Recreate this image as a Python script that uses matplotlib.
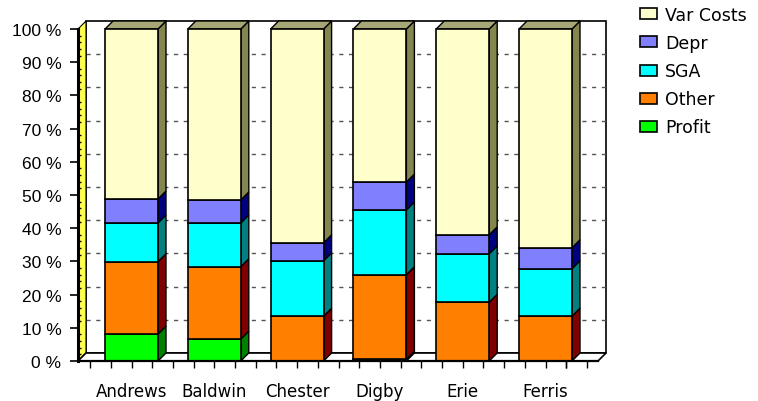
import matplotlib
matplotlib.use("Agg")
import matplotlib.pyplot as plt
from matplotlib.patches import Polygon, Rectangle
from matplotlib.ticker import MultipleLocator, FixedLocator

plt.rcParams['font.family'] = ['Liberation Sans', 'DejaVu Sans']

# Percentage breakdown of each company's sales dollar
companies = ["Andrews", "Baldwin", "Chester", "Digby", "Erie", "Ferris"]
profit = [8.1, 6.6, 0.0, 0.5, 0.0, 0.0]
other = [21.8, 21.8, 13.5, 25.5, 17.7, 13.5]
sga = [11.7, 13.2, 16.7, 19.5, 14.6, 14.3]
depr = [7.2, 6.9, 5.4, 8.4, 5.7, 6.3]
var_costs = [51.2, 51.5, 64.4, 46.1, 62.0, 65.9]

series_names = ["Profit", "Other", "SGA", "Depr", "Var Costs"]
series_values = [profit, other, sga, depr, var_costs]
front_colors = ["#00FF00", "#FF8000", "#00FFFF", "#8080FF", "#FFFFCC"]
side_colors = ["#008000", "#800000", "#008080", "#000080", "#858550"]
top_color = "#A6A676"

W, H = 758, 402
fig = plt.figure(figsize=(W / 100, H / 100), dpi=100)
ax = fig.add_axes([78 / W, 40 / H, 520 / W, 332 / H])

x_unit_px = 82.8
x_left = -53.5 / x_unit_px
x_right = x_left + 520 / x_unit_px
ax.set_xlim(x_left, x_right)
ax.set_ylim(0, 100)

# depth of the 3-D box, expressed in data units
dx = 8 / x_unit_px
dy = 8 / 3.32
bar_w = 0.64

# back wall
ax.add_patch(Rectangle((x_left + dx, dy), x_right - x_left, 100, facecolor="white",
                       edgecolor="black", lw=1.2, clip_on=False, zorder=0.5))
# dashed gridlines on the back wall
for v in range(10, 100, 10):
    ax.plot([x_left + dx, x_right + dx], [v + dy, v + dy], color="#555555", lw=1.0,
            ls=(0, (3, 4)), clip_on=False, zorder=0.6)
# left side wall
ax.add_patch(Polygon([(x_left, 0), (x_left + dx, dy), (x_left + dx, 100 + dy), (x_left, 100)],
                     closed=True, facecolor="#FFFF50", edgecolor="black", lw=0.8,
                     clip_on=False, zorder=0.7))
# floor
ax.add_patch(Polygon([(x_left, 0), (x_right, 0), (x_right + dx, dy), (x_left + dx, dy)],
                     closed=True, facecolor="white", edgecolor="black", lw=1.2,
                     clip_on=False, zorder=0.7))

positions = list(range(len(companies)))
bottoms = [0.0] * len(companies)
handles = []
for vals, fc, sc, name in zip(series_values, front_colors, side_colors, series_names):
    bars = ax.bar(positions, vals, width=bar_w, bottom=bottoms, color=fc, edgecolor="black",
                  lw=1.2, zorder=3, clip_on=False, label=name)
    handles.append(bars)
    for xp, b, v in zip(positions, bottoms, vals):
        if v <= 0:
            continue
        xr = xp + bar_w / 2
        ax.add_patch(Polygon([(xr, b), (xr + dx, b + dy), (xr + dx, b + v + dy), (xr, b + v)],
                             closed=True, facecolor=sc, edgecolor="black", lw=1.0,
                             clip_on=False, zorder=2.5))
    bottoms = [b + v for b, v in zip(bottoms, vals)]

# top faces of the stacks
for xp, t in zip(positions, bottoms):
    xl = xp - bar_w / 2
    ax.add_patch(Polygon([(xl, t), (xl + bar_w, t), (xl + bar_w + dx, t + dy), (xl + dx, t + dy)],
                         closed=True, facecolor=top_color, edgecolor="black", lw=1.0,
                         clip_on=False, zorder=2.5))

# axes styling
for s in ("top", "right"):
    ax.spines[s].set_visible(False)
ax.spines["left"].set_linewidth(2.2)
ax.spines["bottom"].set_linewidth(1.6)
ax.spines["left"].set_zorder(4)
ax.spines["bottom"].set_zorder(4)
ax.patch.set_alpha(0)

ax.yaxis.set_major_locator(MultipleLocator(10))
ax.yaxis.set_minor_locator(MultipleLocator(2))
ax.set_yticklabels([f"{int(v)} %" for v in ax.get_yticks()])
ax.tick_params(axis="y", which="major", direction="out", length=6, width=1.2,
               labelsize=12.5, pad=6)
ax.tick_params(axis="y", which="minor", direction="in", length=2.5, width=1)

ax.set_xticks(positions)
ax.set_xticklabels(companies, family="DejaVu Sans")
ax.xaxis.set_minor_locator(FixedLocator([p + d for p in positions for d in (-0.5, -0.25, 0.25)] + [5.25, 5.5]))
ax.tick_params(axis="x", which="both", direction="out", length=5, width=1)
ax.tick_params(axis="x", which="major", labelsize=12, pad=10)

# legend, top series first
fig.legend(handles[::-1], series_names[::-1], loc="upper left",
           bbox_to_anchor=(640 / W, 1 - 7 / H), frameon=False,
           prop={"family": "DejaVu Sans", "size": 12.5},
           handlelength=1.0, handleheight=0.6, handletextpad=0.45, labelspacing=0.58,
           borderpad=0, borderaxespad=0)

fig.savefig("out.png", dpi=100)
